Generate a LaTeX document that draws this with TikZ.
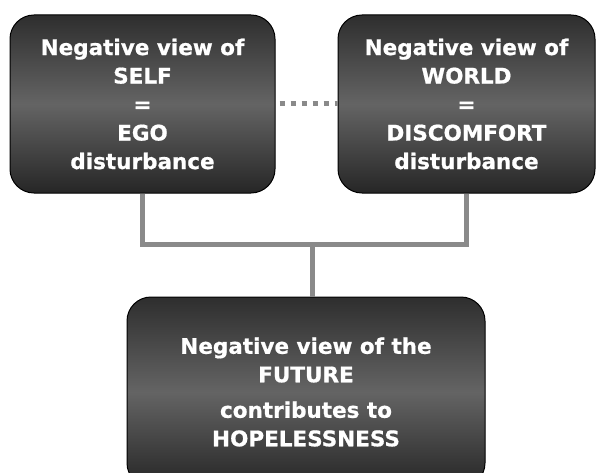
\documentclass[tikz,border=0pt]{standalone}
\usepackage{fontspec}
\setmainfont{DejaVu Sans}
\newfontfamily\boxfont{DejaVu Sans}[BoldFeatures={FakeBold=0.8}]
\definecolor{boxtop}{HTML}{2E2E2E}
\definecolor{boxmid}{HTML}{646464}
\definecolor{boxbot}{HTML}{262626}
\definecolor{conngray}{HTML}{8A8A8A}
\begin{document}
\begin{tikzpicture}[x=1pt,y=-1pt,
  darkbox/.style={draw=black, line width=1pt, rounded corners=24pt,
    top color=boxtop, bottom color=boxbot, middle color=boxmid,
    text=white, align=center, inner sep=0pt,
    font=\boxfont\fontsize{21.5}{28.5}\selectfont\bfseries},
  conn/.style={draw=conngray, line width=5pt},
  dotconn/.style={draw=conngray, line width=5pt, dash pattern=on 5pt off 6pt, dash phase=-4pt}]
\useasboundingbox (0,0) rectangle (596,473);
\begin{scope}
\clip (0,0) rectangle (596,473);
\node[darkbox, minimum width=265pt, minimum height=178pt] (A) at (142.5,104)
  {Negative view of\\SELF\\=\\EGO\\disturbance};
\node[darkbox, minimum width=257pt, minimum height=178pt] (B) at (466.5,104)
  {Negative view of\\WORLD\\=\\DISCOMFORT\\disturbance};
\node[darkbox, minimum width=358pt, minimum height=190pt] (C) at (306,392)
  {Negative view of the\\FUTURE\\[7pt]contributes to\\HOPELESSNESS};
\coordinate (m) at (312,244);
\draw[conn] (A.south) |- (m) -| (B.south);
\draw[conn] (m) -- (m |- C.north);
\draw[dotconn] (A.east) -- (B.west);
\end{scope}
\end{tikzpicture}
\end{document}
